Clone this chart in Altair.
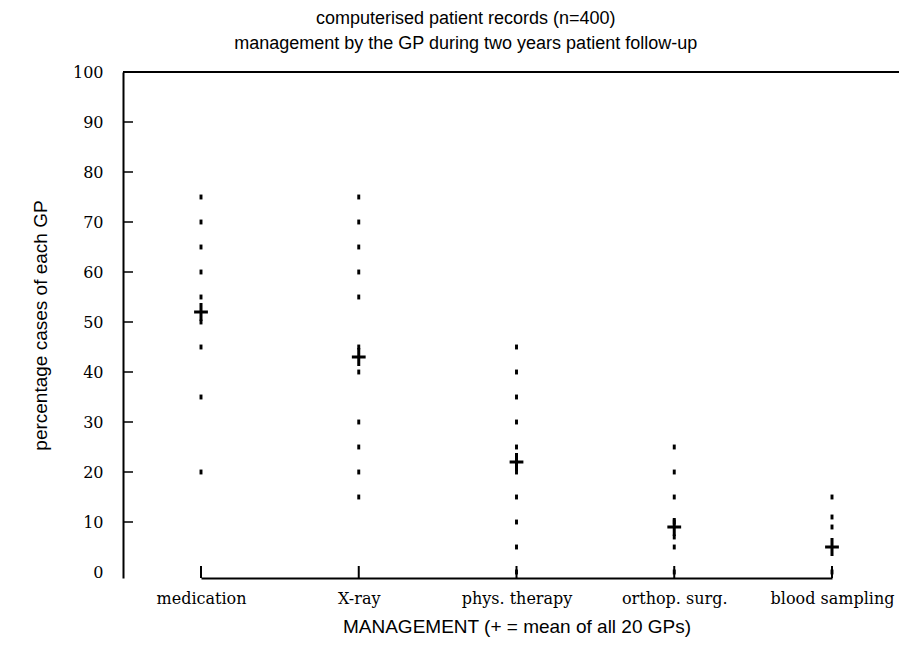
import altair as alt
import pandas as pd

categories = ["medication", "X-ray", "phys. therapy", "orthop. surg.", "blood sampling"]
medication = [75, 70, 65, 60, 55, 50, 45, 35, 20]
xray = [75, 70, 65, 60, 55, 45, 40, 30, 25, 20, 15]
phys = [45, 40, 35, 30, 25, 20, 15, 10, 5, 0]
orthop = [25, 20, 15, 10, 7, 5, 0]
blood = [15, 11, 9, 0]
means = [52, 43, 22, 9, 5]
y_ticks = [10, 20, 30, 40, 50, 60, 70, 80, 90]

rows = []
for cat, vals in zip(categories, [medication, xray, phys, orthop, blood]):
    for v in vals:
        rows.append({"cat": cat, "pct": v})
points_df = pd.DataFrame(rows)
means_df = pd.DataFrame({"cat": categories, "pct": means})
ticks_df = pd.DataFrame({"t": y_ticks})
cat_df = pd.DataFrame({"cat": categories})

W, H = 776, 506
xscale = alt.Scale(type="point", domain=categories, range=[78, 709], padding=0)
yscale = alt.Scale(domain=[-1.2, 100], nice=False, zero=False)

x_enc = alt.X("cat:N", scale=xscale, sort=categories,
              axis=alt.Axis(title="MANAGEMENT (+ = mean of all 20 GPs)", labelAngle=0,
                            ticks=False, labelPadding=12, domainColor="black",
                            domainWidth=2, titlePadding=11))
y_enc = alt.Y("pct:Q", scale=yscale,
              axis=alt.Axis(title="percentage cases of each GP", values=list(range(0, 101, 10)),
                            ticks=False, grid=False, labelPadding=20, domainColor="black",
                            domainWidth=2, titlePadding=22, titleFontSize=19))

dots = alt.Chart(points_df).mark_point(
    shape="M-0.6,-1L0.6,-1L0.6,1L-0.6,1Z", filled=True, color="black", opacity=1, size=24
).encode(x=x_enc, y=y_enc)

crosses = alt.Chart(means_df).mark_point(
    shape="M-1,0L1,0M0,-1.3L0,1.3", filled=False, color="black", opacity=1,
    size=190, strokeWidth=3
).encode(x=alt.X("cat:N", scale=xscale, sort=categories), y=alt.Y("pct:Q", scale=yscale))

ytick_rules = alt.Chart(ticks_df).mark_rule(color="black", strokeWidth=1.5).encode(
    y=alt.Y("t:Q", scale=yscale), x=alt.value(0), x2=alt.value(10)
)

xtick_rules = alt.Chart(cat_df).mark_rule(color="black", strokeWidth=2).encode(
    x=alt.X("cat:N", scale=xscale, sort=categories), y=alt.value(H), y2=alt.value(H - 12)
)

top_line = alt.Chart(pd.DataFrame({"a": [0]})).mark_rule(color="black", strokeWidth=2).encode(
    y=alt.value(0), x=alt.value(0), x2=alt.value(W)
)

chart = alt.layer(dots, crosses, ytick_rules, xtick_rules, top_line).properties(
    width=W, height=H,
    title=alt.TitleParams(
        text=["computerised patient records (n=400)",
              "management by the GP during two years patient follow-up"],
        font="Liberation Sans", fontSize=18, fontWeight="normal", color="black",
        anchor="middle", frame="bounds", lineHeight=25, offset=11
    ),
    autosize=alt.AutoSizeParams(type="none"),
    padding={"left": 115, "top": 64, "right": 2, "bottom": 60},
).configure_view(stroke=None).configure_axis(
    labelFont="DejaVu Serif", labelFontSize=16, labelColor="black",
    titleFont="Liberation Sans", titleFontSize=19, titleFontWeight="normal", titleColor="black"
)

chart.save("out.html", embed_options={"renderer": "svg", "actions": False})
